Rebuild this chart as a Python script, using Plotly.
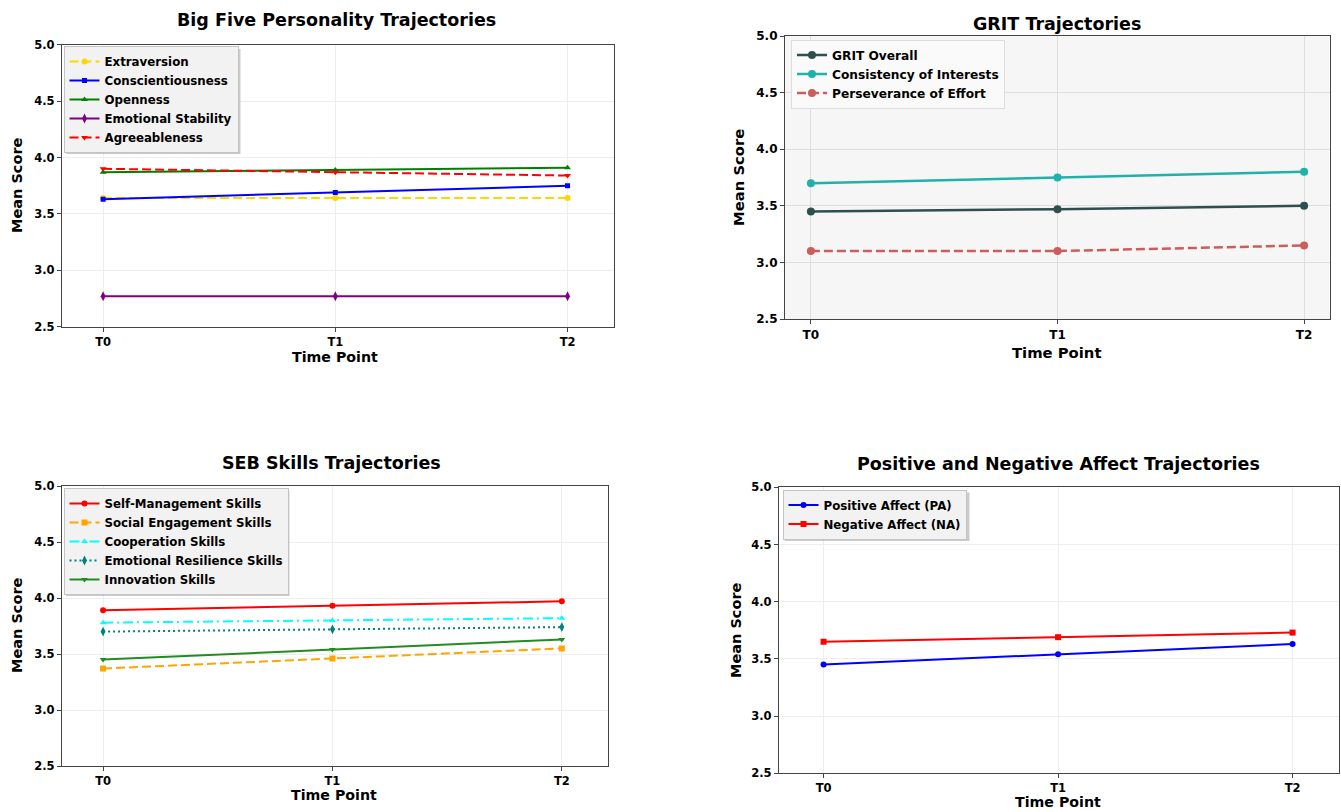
import plotly.graph_objects as go

W, H = 1341, 812
time_points = ["T0", "T1", "T2"]
x_idx = [0, 1, 2]

# Big Five
extraversion = [3.64, 3.64, 3.64]
conscientiousness = [3.63, 3.69, 3.75]
openness = [3.87, 3.89, 3.91]
emotional_stability = [2.77, 2.77, 2.77]
agreeableness = [3.90, 3.87, 3.84]

# GRIT
grit_overall = [3.45, 3.47, 3.50]
consistency_interests = [3.70, 3.75, 3.80]
perseverance_effort = [3.10, 3.10, 3.15]

# SEB skills
self_management = [3.89, 3.93, 3.97]
social_engagement = [3.37, 3.46, 3.55]
cooperation = [3.78, 3.80, 3.82]
emotional_resilience = [3.70, 3.72, 3.74]
innovation = [3.45, 3.54, 3.63]

# Affect
positive_affect = [3.45, 3.54, 3.63]
negative_affect = [3.65, 3.69, 3.73]

y_ticks = [2.5, 3.0, 3.5, 4.0, 4.5, 5.0]

FONT = "DejaVu Sans"


def px(x):
    return x / W


def py(y):
    return 1 - y / H


fig = go.Figure()


def add(xa, ya, leg, name, y, color, dash, symbol, msize, lw):
    fig.add_trace(go.Scatter(
        x=x_idx, y=y, mode="lines+markers", name=name,
        xaxis=xa, yaxis=ya, legend=leg,
        line=dict(color=color, width=lw, dash=dash),
        marker=dict(symbol=symbol, size=msize, color=color),
    ))


# Panel 1
add("x", "y", "legend", "Extraversion", extraversion, "#FFD700", "9px,4px", "circle", 6, 2)
add("x", "y", "legend", "Conscientiousness", conscientiousness, "#0000FF", "solid", "square", 5, 2)
add("x", "y", "legend", "Openness", openness, "#008000", "solid", "triangle-up", 6, 2)
add("x", "y", "legend", "Emotional Stability", emotional_stability, "#800080", "solid", "diamond-tall", 7, 2)
add("x", "y", "legend", "Agreeableness", agreeableness, "#FF0000", "9px,4px", "triangle-down", 6, 2)

# Panel 2
add("x2", "y2", "legend2", "GRIT Overall", grit_overall, "#2F4F4F", "solid", "circle", 8, 2.5)
add("x2", "y2", "legend2", "Consistency of Interests", consistency_interests, "#20B2AA", "solid", "circle", 8, 2.5)
add("x2", "y2", "legend2", "Perseverance of Effort", perseverance_effort, "#CD5C5C", "9px,4px", "circle", 8, 2.5)

# Panel 3
add("x3", "y3", "legend3", "Self-Management Skills", self_management, "#FF0000", "solid", "circle", 6, 2)
add("x3", "y3", "legend3", "Social Engagement Skills", social_engagement, "#FFA500", "9px,4px", "square", 6, 2)
add("x3", "y3", "legend3", "Cooperation Skills", cooperation, "#00FFFF", "10px,4px,2px,4px", "triangle-up", 6, 2)
add("x3", "y3", "legend3", "Emotional Resilience Skills", emotional_resilience, "#008080", "2px,3px", "diamond-tall", 7, 2)
add("x3", "y3", "legend3", "Innovation Skills", innovation, "#228B22", "solid", "triangle-down", 6, 2)

# Panel 4
add("x4", "y4", "legend4", "Positive Affect (PA)", positive_affect, "#0000FF", "solid", "circle", 6, 2)
add("x4", "y4", "legend4", "Negative Affect (NA)", negative_affect, "#FF0000", "solid", "square", 6, 2)

panels = [
    # (suffix, left, right, top, bottom, xrange, bg, gridcolor, tickfont)
    ("", 62, 614, 44.7, 326.7, [-0.177, 2.2], "white", "#eeeeee", 11.5),
    ("2", 785, 1329.5, 36, 319, [-0.105, 2.103], "#f6f6f6", "#dedede", 12),
    ("3", 62, 607.7, 486, 766, [-0.179, 2.2], "white", "#eeeeee", 11.5),
    ("4", 779, 1339, 487.3, 773.3, [-0.19, 2.198], "white", "#eeeeee", 11.5),
]

layout = dict(
    width=W, height=H, autosize=False,
    margin=dict(l=0, r=0, t=0, b=0, pad=0),
    paper_bgcolor="white", plot_bgcolor="white",
    font=dict(family=FONT, color="black"),
    showlegend=True,
)

shapes = []
for suf, l, r, t, b, xr, bg, gc, tf in panels:
    common = dict(
        showgrid=True, gridcolor=gc, gridwidth=1, zeroline=False,
        showline=True, linecolor="#444444", linewidth=1.2, mirror=True,
        ticks="outside", ticklen=4, tickcolor="#444444",
        tickfont=dict(family=FONT, size=tf, weight="bold", color="black"),
        fixedrange=True, automargin=False,
    )
    layout["xaxis" + suf] = dict(
        domain=[px(l), px(r)], range=xr, anchor="y" + suf,
        tickmode="array", tickvals=x_idx, ticktext=time_points, **common)
    layout["yaxis" + suf] = dict(
        domain=[py(b), py(t)], range=[2.5, 5.0], anchor="x" + suf,
        tickmode="array", tickvals=y_ticks, ticktext=[f"{v:.1f}" for v in y_ticks], **common)
    if bg != "white":
        shapes.append(dict(type="rect", xref="paper", yref="paper",
                           x0=px(l), x1=px(r), y0=py(b), y1=py(t),
                           fillcolor=bg, line=dict(width=0), layer="below"))

# legend drop shadows (legend boxes are drawn on top of these)
for (x0, y0, x1, y1) in [(66, 49, 240.5, 154), (66, 491, 289.5, 596), (785, 492.5, 969.5, 541)]:
    shapes.append(dict(type="rect", xref="paper", yref="paper",
                       x0=px(x0), x1=px(x1), y0=py(y1), y1=py(y0),
                       fillcolor="rgba(110,110,110,0.35)", line=dict(width=0), layer="above"))

layout["shapes"] = shapes

leg_font = dict(family=FONT, size=11.8, weight="bold", color="black")
leg_font2 = dict(family=FONT, size=12.2, weight="bold", color="black")
layout["legend"] = dict(x=px(63.5), y=py(46), xanchor="left", yanchor="top",
                        bgcolor="#f2f2f2", bordercolor="#c4c4c4", borderwidth=1,
                        font=leg_font, itemwidth=30, tracegroupgap=0)
layout["legend2"] = dict(x=px(791), y=py(39.5), xanchor="left", yanchor="top",
                         bgcolor="#fafafa", bordercolor="#dddddd", borderwidth=1,
                         font=leg_font2, itemwidth=30, tracegroupgap=0)
layout["legend3"] = dict(x=px(63.5), y=py(488), xanchor="left", yanchor="top",
                         bgcolor="#f2f2f2", bordercolor="#c4c4c4", borderwidth=1,
                         font=leg_font, itemwidth=30, tracegroupgap=0)
layout["legend4"] = dict(x=px(782.5), y=py(489.5), xanchor="left", yanchor="top",
                         bgcolor="#f2f2f2", bordercolor="#c4c4c4", borderwidth=1,
                         font=leg_font, itemwidth=30, tracegroupgap=0)

ann = []


def text(x, y, s, size, angle=0):
    ann.append(dict(x=px(x), y=py(y), xref="paper", yref="paper", text=s,
                    showarrow=False, xanchor="center", yanchor="middle", textangle=angle,
                    font=dict(family=FONT, size=size, weight="bold", color="black")))


text(336, 20, "Big Five Personality Trajectories", 17.5)
text(1057, 24, "GRIT Trajectories", 17.5)
text(331, 463, "SEB Skills Trajectories", 17.5)
text(1058, 464, "Positive and Negative Affect Trajectories", 17.5)

text(335, 357, "Time Point", 14.2)
text(1056, 353, "Time Point", 14.8)
text(334, 795, "Time Point", 14.2)
text(1058, 802, "Time Point", 14.2)

text(17, 185, "Mean Score", 14.5, -90)
text(738, 178, "Mean Score", 14.8, -90)
text(17, 625, "Mean Score", 14.5, -90)
text(736, 630, "Mean Score", 14.5, -90)

layout["annotations"] = ann
fig.update_layout(**layout)
fig.write_html("out.html")
